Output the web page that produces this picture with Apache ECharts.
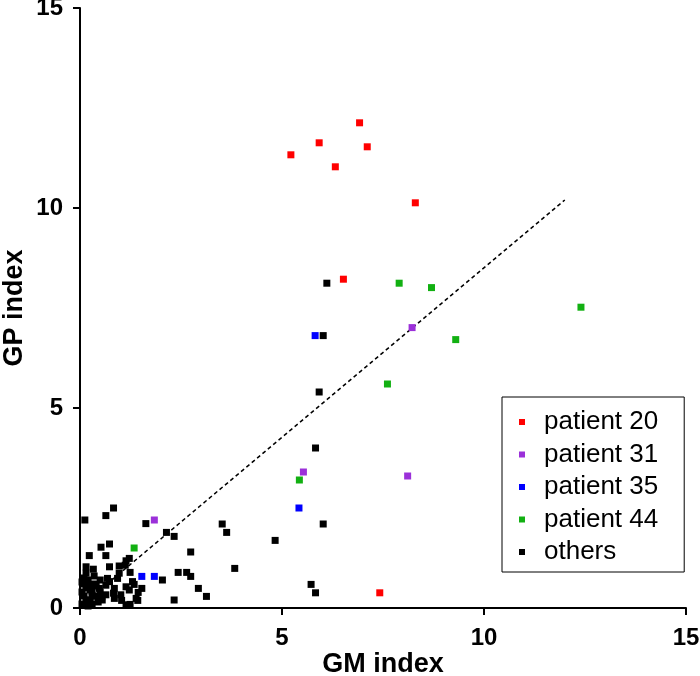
<!DOCTYPE html>
<html>
<head>
<meta charset="UTF-8">
<script src="https://cdn.jsdelivr.net/npm/echarts@6/dist/echarts.min.js"></script>
<style>
html, body { margin: 0; padding: 0; background: #fff; }
#chart { width: 700px; height: 676px; }
</style>
</head>
<body>
<div id="chart"></div>
<script>
// [GM index, GP index]
const patient20 = [[5.22,11.33],[5.92,11.63],[6.32,11.03],[6.92,12.13],[7.11,11.53],[8.30,10.13],[6.52,8.22],[7.42,0.38]];
const patient31 = [[1.84,2.2],[5.53,3.4],[8.11,3.3],[8.22,7.01]];
const patient35 = [[1.53,0.79],[1.84,0.79],[5.42,2.5],[5.82,6.81]];
const patient44 = [[1.34,1.5],[5.43,3.2],[7.61,5.6],[7.90,8.12],[8.70,8.01],[9.30,6.71],[12.4,7.52]];
const others = [
  [6.11,8.12],[6.02,6.81],[5.92,5.4],[5.83,4.0],[6.02,2.1],[4.83,1.69],[5.72,0.59],[5.83,0.38],
  [3.52,2.1],[3.63,1.89],[2.74,1.4],[3.83,0.99],[2.64,0.89],[2.74,0.79],[2.93,0.49],[3.13,0.29],
  [2.33,0.2],[2.14,1.89],[2.33,1.79],[1.63,2.11],[2.04,0.7],[2.43,0.89],
  [0.12,2.2],[0.64,2.31],[0.83,2.5],[0.73,1.6],[0.52,1.52],[0.23,1.31],[0.64,1.31],
  [1.14,1.18],[1.22,1.24],[1.12,1.07],[0.15,1.03],[0.33,0.97],[0.73,1.03],[0.97,1.05],
  [0.15,0.87],[0.73,0.66],[0.68,0.74],[0.93,0.74],[0.97,0.87],[1.24,0.89],[0.64,0.57],
  [0.48,0.49],[0.85,0.49],[1.14,0.53],[1.22,0.45],[1.3,0.66],[1.01,0.33],[1.39,0.24],
  [1.14,0.08],[1.43,0.19],[0.85,0.24],[0.64,0.33],[1.03,0.19],[1.44,0.39],[1.53,0.49],
  [1.34,0.59],[0.83,0.37],[0.54,0.28],[1.24,0.09],
  [0.05,0.1],[0.1,0.3],[0.15,0.5],[0.2,0.7],[0.1,0.6],[0.25,0.2],[0.3,0.4],[0.35,0.6],
  [0.4,0.3],[0.45,0.15],[0.05,0.4],[0.2,0.05],[0.3,0.1],[0.15,0.2],[0.25,0.45],[0.4,0.55],
  [0.5,0.4],[0.5,0.7],[0.55,0.2],[0.1,0.75],[0.05,0.65],[0.35,0.8],[0.3,0.3],[0.2,0.55]
];
const fitLine = [[0.8,0.71],[12.0,10.2]];
const seriesNames = ['patient 20','patient 31','patient 35','patient 44','others'];
const seriesColors = ['#ff0000','#9b30d9','#0000ff','#12b012','#000000'];
const seriesData = [patient20, patient31, patient35, patient44, others];

const font = 'Liberation Sans, Arial, sans-serif';
const chart = echarts.init(document.getElementById('chart'));
const scatters = seriesNames.map((name, i) => ({
  name: name,
  type: 'scatter',
  symbol: 'rect',
  symbolSize: 7,
  itemStyle: { color: seriesColors[i], opacity: 1 },
  data: seriesData[i],
  z: i === 4 ? 2 : 3
}));
chart.setOption({
  animation: false,
  grid: { left: 80, right: 14, top: 8, bottom: 68, outerBoundsMode: 'none' },
  legend: {
    data: seriesNames.map(n => ({ name: n, icon: 'rect' })),
    orient: 'vertical',
    left: 502,
    top: 397,
    itemWidth: 6,
    itemHeight: 6,
    itemGap: 2.5,
    padding: [10, 26, 5, 17],
    borderColor: '#000',
    borderWidth: 1,
    backgroundColor: '#fff',
    textStyle: { fontFamily: font, fontSize: 26, color: '#000', lineHeight: 30, padding: [0, 0, 0, 14] }
  },
  xAxis: {
    type: 'value', min: 0, max: 15, interval: 5,
    name: 'GM index', nameLocation: 'middle', nameGap: 43, nameMoveOverlap: false,
    nameTextStyle: { fontFamily: font, fontSize: 27, fontWeight: 'bold', color: '#000' },
    axisLine: { onZero: false, lineStyle: { color: '#000', width: 2 } },
    axisTick: { length: 7, lineStyle: { color: '#000', width: 2 } },
    axisLabel: { fontFamily: font, fontSize: 24, fontWeight: 'bold', color: '#000', margin: 18 },
    splitLine: { show: false }
  },
  yAxis: {
    type: 'value', min: 0, max: 15, interval: 5,
    name: 'GP index', nameLocation: 'middle', nameGap: 52, nameMoveOverlap: false,
    nameTextStyle: { fontFamily: font, fontSize: 27, fontWeight: 'bold', color: '#000' },
    axisLine: { onZero: false, lineStyle: { color: '#000', width: 2 } },
    axisTick: { length: 7, lineStyle: { color: '#000', width: 2 } },
    axisLabel: { fontFamily: font, fontSize: 24, fontWeight: 'bold', color: '#000', margin: 17 },
    splitLine: { show: false }
  },
  series: scatters.concat([{
    name: 'fit',
    type: 'line',
    data: fitLine,
    symbol: 'none',
    lineStyle: { color: '#000', width: 1.5, type: [4, 3] },
    z: 1
  }])
});
</script>
</body>
</html>
